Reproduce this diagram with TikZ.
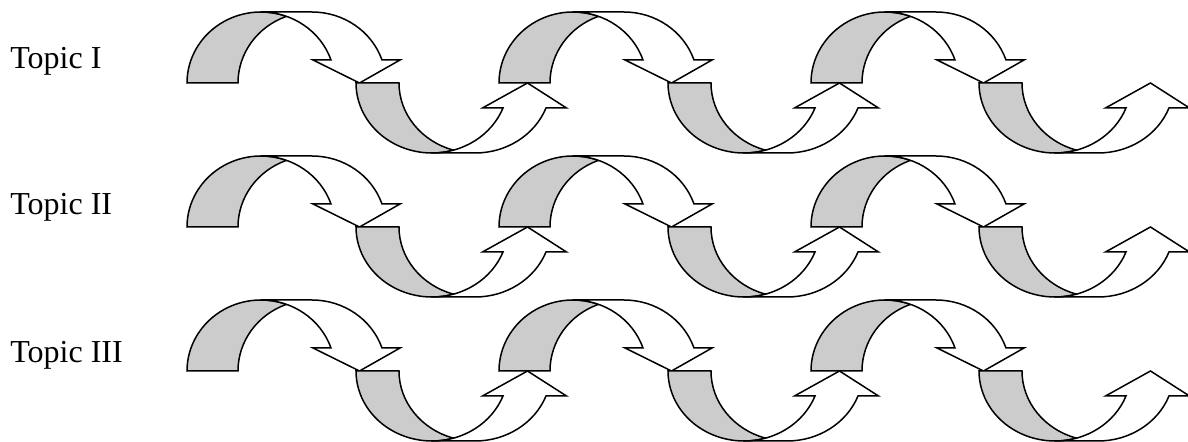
\documentclass[tikz,border=0pt]{standalone}
\usepackage{fontspec}
\setmainfont{Liberation Serif}
\definecolor{cBand}{HTML}{CCCCCC}

% one curled band arrow: #1 x, #2 base, #3 flip, #4 band, #5 radius x, #6 radius y,
% #7 head height, #8 barb
\newcommand{\wavearrow}[8]{%
  \begin{scope}[shift={(#1,#2)}, yscale=#3]
    \pgfmathsetmacro\wct{acos(#4/(2*#5))}
    \pgfmathsetmacro\wcp{asin(#7/#6)}
    \pgfmathsetmacro\wdx{#5*cos(\wcp)}
    \pgfmathsetmacro\wtip{#5+\wdx+#4/2+3}
    % back of the band
    \filldraw[band] (0,0) arc[start angle=180, end angle=\wct, x radius=#5, y radius=#6]
      arc[start angle=180-\wct, end angle=180, x radius=#5, y radius=#6] -- cycle;
    % front of the band with its head
    \filldraw[front] (#5,#6) -- ++(#4,0)
      arc[start angle=90, end angle=\wcp, x radius=#5, y radius=#6]
      -- ++(#8,0) -- (\wtip,0) -- (#5+\wdx-#8,#7) -- (#5+\wdx,#7)
      arc[start angle=\wcp, end angle=90, x radius=#5, y radius=#6] -- cycle;
  \end{scope}}

\begin{document}
\begin{tikzpicture}[
  x=0.5pt, y=-0.5pt,
  band/.style={fill=cBand, draw=black, line width=0.75pt},
  front/.style={fill=white, draw=black, line width=0.75pt},
  topic/.style={anchor=base west, inner sep=0pt, font=\fontsize{16}{19}\selectfont},
]
\useasboundingbox (0,0) rectangle (1188,442);

% labels
\node[topic] (t1) at (10,69) {Topic I};
\node[topic] (t2) at (10,215) {Topic II};
\node[topic] (t3) at (10,363) {Topic III};

% three rows of curls, upper and lower halves
\foreach \b in {83,227,371} {
  \foreach \x in {187,499,811} {
    \wavearrow{\x}{\b}{-1}{51}{74}{71}{23}{18}
  }
  \foreach \x in {356,668,979} {
    \wavearrow{\x}{\b}{1}{43}{76}{70}{25}{20.5}
  }
}

\end{tikzpicture}
\end{document}
